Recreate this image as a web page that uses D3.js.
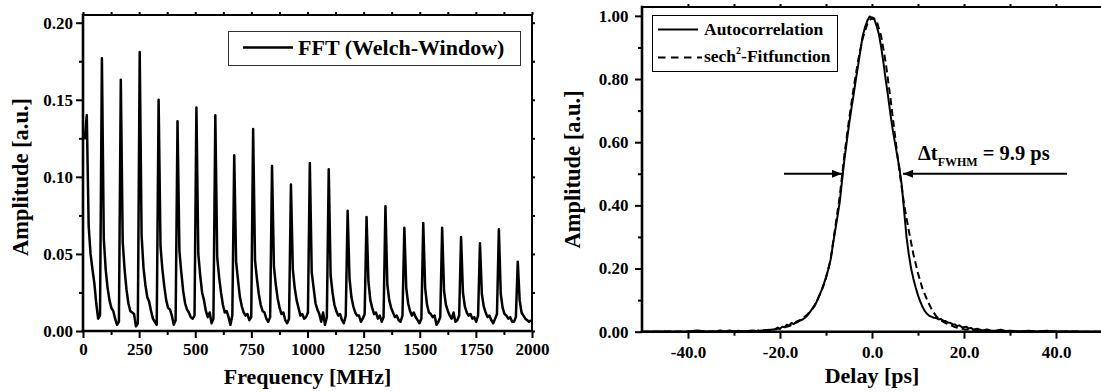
<!DOCTYPE html>
<html>
<head>
<meta charset="utf-8">
<script src="https://cdn.jsdelivr.net/npm/d3@7"></script>
<style>
  body { margin: 0; background: #fff; }
  svg, svg text { font-family: "Liberation Serif", "Times New Roman", Times, serif !important; font-weight: bold; }
</style>
</head>
<body>
<svg id="chart" width="1101" height="392"></svg>
<script>
// ---- left panel: FFT spectrum, sampled every fftStep MHz ----
const fftStep = 8.42;
// one row per comb period, each row starts at a peak (row 0 is the DC part)
const fftAmp = [
  0.126, 0.125, 0.140, 0.068, 0.050, 0.040, 0.031, 0.018, 0.008, 0.010,
  0.177, 0.060, 0.040, 0.028, 0.020, 0.015, 0.013, 0.008, 0.004, 0.006,
  0.163, 0.058, 0.040, 0.027, 0.018, 0.013, 0.012, 0.011, 0.003, 0.005,
  0.181, 0.062, 0.041, 0.030, 0.022, 0.019, 0.013, 0.008, 0.006, 0.004,
  0.150, 0.055, 0.040, 0.029, 0.020, 0.015, 0.014, 0.010, 0.004, 0.007,
  0.136, 0.052, 0.038, 0.026, 0.018, 0.014, 0.012, 0.009, 0.008, 0.010,
  0.145, 0.050, 0.036, 0.025, 0.020, 0.013, 0.009, 0.012, 0.005, 0.008,
  0.140, 0.048, 0.035, 0.025, 0.017, 0.012, 0.013, 0.009, 0.004, 0.010,
  0.114, 0.045, 0.033, 0.022, 0.016, 0.012, 0.010, 0.011, 0.007, 0.009,
  0.131, 0.046, 0.034, 0.024, 0.017, 0.013, 0.012, 0.008, 0.006, 0.009,
  0.107, 0.042, 0.030, 0.021, 0.015, 0.011, 0.012, 0.007, 0.005, 0.008,
  0.095, 0.040, 0.028, 0.020, 0.015, 0.010, 0.011, 0.008, 0.009, 0.012,
  0.109, 0.038, 0.028, 0.018, 0.014, 0.011, 0.006, 0.012, 0.004, 0.009,
  0.105, 0.036, 0.025, 0.017, 0.013, 0.010, 0.011, 0.007, 0.005, 0.010,
  0.078, 0.034, 0.022, 0.016, 0.012, 0.010, 0.010, 0.006, 0.008, 0.011,
  0.074, 0.032, 0.020, 0.015, 0.011, 0.012, 0.008, 0.010, 0.006, 0.009,
  0.081, 0.030, 0.020, 0.015, 0.012, 0.009, 0.010, 0.007, 0.006, 0.010,
  0.067, 0.028, 0.018, 0.013, 0.010, 0.012, 0.009, 0.007, 0.005, 0.008,
  0.070, 0.028, 0.017, 0.012, 0.011, 0.009, 0.010, 0.004, 0.006, 0.009,
  0.067, 0.026, 0.017, 0.013, 0.010, 0.008, 0.012, 0.006, 0.007, 0.010,
  0.061, 0.025, 0.016, 0.012, 0.010, 0.011, 0.008, 0.009, 0.006, 0.010,
  0.057, 0.024, 0.016, 0.012, 0.009, 0.010, 0.007, 0.005, 0.008, 0.011,
  0.066, 0.024, 0.015, 0.011, 0.010, 0.008, 0.009, 0.006, 0.006, 0.009,
  0.045, 0.020, 0.012, 0.010, 0.008, 0.007, 0.006, 0.007
];
const fftXTicks = [0, 250, 500, 750, 1000, 1250, 1500, 1750, 2000];
const fftXMinor = [125, 375, 625, 875, 1125, 1375, 1625, 1875];
const fftYTicks = [0, 0.05, 0.10, 0.15, 0.20];
const fftYMinor = [0.025, 0.075, 0.125, 0.175];

// ---- right panel: autocorrelation [delay ps, amplitude] ----
const autocorr = [
  [-50, 0], [-46, 0.001], [-42, 0], [-40, 0.001], [-38, 0.004], [-36, 0.001], [-34, 0.001],
  [-33, 0.004], [-32, 0.001], [-31, 0.004], [-30, 0.001], [-29, 0.003], [-28, 0.001],
  [-27, 0.002], [-26, 0.004], [-25, 0.002], [-24, 0.004], [-23, 0.002], [-22, 0.006],
  [-21, 0.008], [-20.5, 0.013], [-20, 0.009], [-19.5, 0.016], [-19, 0.014], [-18.5, 0.022],
  [-18, 0.019], [-17.5, 0.028], [-17, 0.024], [-16.5, 0.031], [-16, 0.035], [-15.5, 0.036],
  [-15, 0.040], [-14.5, 0.045], [-14, 0.052], [-13.5, 0.062], [-13, 0.072], [-12.5, 0.080],
  [-12, 0.096], [-11.5, 0.113], [-11, 0.130], [-10.5, 0.150], [-10, 0.172], [-9.5, 0.198],
  [-9, 0.228], [-8.5, 0.275], [-8, 0.320], [-7.5, 0.365], [-7, 0.412], [-6.5, 0.480],
  [-6, 0.545], [-5.5, 0.600], [-5, 0.655], [-4.5, 0.705], [-4, 0.750], [-3.5, 0.800],
  [-3, 0.845], [-2.5, 0.893], [-2, 0.938], [-1.5, 0.965], [-1, 0.985], [-0.5, 0.998],
  [0, 0.990], [0.3, 0.994], [0.6, 0.986], [1, 0.968], [1.5, 0.942], [2, 0.900],
  [2.5, 0.850], [3, 0.795], [3.5, 0.745], [4, 0.690], [4.5, 0.640], [5, 0.598],
  [5.5, 0.556], [6, 0.515], [6.5, 0.460], [7, 0.380], [7.5, 0.300], [8, 0.245],
  [8.5, 0.200], [9, 0.168], [9.5, 0.140], [10, 0.115], [10.5, 0.095], [11, 0.078],
  [11.5, 0.065], [12, 0.056], [12.5, 0.050], [13, 0.047], [13.5, 0.044], [14, 0.043],
  [14.5, 0.039], [15, 0.040], [15.5, 0.035], [16, 0.034], [16.5, 0.029], [17, 0.028],
  [17.5, 0.024], [18, 0.023], [18.5, 0.018], [19, 0.020], [19.5, 0.015], [20, 0.014],
  [20.5, 0.016], [21, 0.010], [21.5, 0.012], [22, 0.007], [23, 0.009], [24, 0.004],
  [25, 0.007], [26, 0.003], [27, 0.004], [28, 0.006], [29, 0.002], [30, 0.003],
  [32, 0.001], [34, 0.003], [36, 0.001], [38, 0.003], [40, 0.001], [43, 0.001], [46, 0], [50, 0]
];
// sech^2 fit curve [delay ps, amplitude]
const sechFit = [
  [-50, 0], [-30, 0.001], [-25, 0.003], [-22, 0.006], [-20, 0.010], [-18, 0.018],
  [-16, 0.032], [-14, 0.055], [-13, 0.072], [-12, 0.096], [-11, 0.128], [-10, 0.170],
  [-9, 0.228], [-8, 0.330], [-7, 0.430], [-6, 0.560], [-5, 0.670], [-4, 0.770],
  [-3, 0.860], [-2, 0.930], [-1, 0.975], [0, 0.995], [1, 0.985], [2, 0.935],
  [3, 0.850], [4, 0.740], [5, 0.620], [6, 0.505], [7, 0.400], [8, 0.320],
  [9, 0.245], [10, 0.185], [11, 0.135], [12, 0.100], [13, 0.070], [14, 0.048],
  [15, 0.036], [16, 0.027], [18, 0.015], [20, 0.008], [22, 0.004], [25, 0.002],
  [30, 0.001], [50, 0]
];
const acXTicks = [-40, -20, 0, 20, 40];
const acXMinor = [-30, -10, 10, 30];
const acYTicks = [0, 0.2, 0.4, 0.6, 0.8, 1.0];
const acYMinor = [0.1, 0.3, 0.5, 0.7, 0.9];
const fwhmLabel = '9.9 ps';

const FONT = '"Liberation Serif", "Times New Roman", Times, serif';
const svg = d3.select('#chart').attr('font-family', FONT).attr('font-weight', 'bold');

function axes(g, x, y, o) {
  const yb = y.range()[0], yt = y.range()[1];
  const xl = x.range()[0], xr = x.range()[1];

  g.append('g').attr('transform', `translate(0,${yb})`)
    .call(d3.axisBottom(x).tickValues(o.xMinor).tickSize(4).tickFormat(''));
  g.append('g').attr('transform', `translate(${xl},0)`)
    .call(d3.axisLeft(y).tickValues(o.yMinor).tickSize(4).tickFormat(''));
  g.append('g').attr('transform', `translate(0,${yb})`)
    .call(d3.axisBottom(x).tickValues(o.xTicks).tickSize(7).tickPadding(o.xPad).tickFormat(o.xFmt));
  g.append('g').attr('transform', `translate(${xl},0)`)
    .call(d3.axisLeft(y).tickValues(o.yTicks).tickSize(7).tickPadding(o.yPad).tickFormat(o.yFmt));
  // mirrored short ticks on top and right
  g.append('g').attr('transform', `translate(0,${yt})`)
    .call(d3.axisTop(x).tickValues(o.xTicks.concat(o.xMinor)).tickSize(3).tickFormat(''));
  g.append('g').attr('transform', `translate(${xr},0)`)
    .call(d3.axisRight(y).tickValues(o.yTicks.concat(o.yMinor)).tickSize(3).tickFormat(''));

  g.selectAll('.domain').remove();
  g.selectAll('.tick line').attr('stroke', '#000').attr('stroke-width', 2);
  g.selectAll('g').attr('font-family', FONT).attr('font-size', 17);
  g.selectAll('.tick text').attr('fill', '#000');

  // frame
  const fr = g.append('g').attr('stroke', '#000').attr('stroke-linecap', 'square');
  fr.append('line').attr('x1', xl).attr('x2', xr).attr('y1', yt).attr('y2', yt).attr('stroke-width', 2);
  fr.append('line').attr('x1', xr).attr('x2', xr).attr('y1', yt).attr('y2', yb).attr('stroke-width', 2);
  fr.append('line').attr('x1', xl).attr('x2', xr).attr('y1', yb).attr('y2', yb).attr('stroke-width', 2.6);
  fr.append('line').attr('x1', xl).attr('x2', xl).attr('y1', yt).attr('y2', yb).attr('stroke-width', 2.6);

  // titles
  g.append('text').attr('x', (xl + xr) / 2).attr('y', o.xTitleY)
    .attr('text-anchor', 'middle').attr('font-size', 22).text(o.xTitle);
  g.append('text').attr('transform', `translate(${o.yTitleX},${(yt + yb) / 2 + o.yTitleDy}) rotate(-90)`)
    .attr('text-anchor', 'middle').attr('font-size', 22.5).text(o.yTitle);
}

function clip(id, x, y) {
  const [x0, x1] = x.range(), [y1, y0] = y.range();
  svg.append('clipPath').attr('id', id).append('rect')
    .attr('x', x0).attr('y', y0).attr('width', x1 - x0).attr('height', y1 - y0);
  return `url(#${id})`;
}

// ---------- left panel ----------
const x1 = d3.scaleLinear().domain([0, 2000]).range([83, 532]);
const y1 = d3.scaleLinear().domain([0, 0.205]).range([331, 15]);
const gL = svg.append('g');

gL.append('path')
  .datum(fftAmp)
  .attr('clip-path', clip('clipL', x1, y1))
  .attr('fill', 'none').attr('stroke', '#000').attr('stroke-width', 2.5)
  .attr('stroke-linejoin', 'round')
  .attr('d', d3.line().x((d, i) => x1(i * fftStep)).y(d => y1(d)));

axes(gL, x1, y1, {
  xTicks: fftXTicks, xMinor: fftXMinor, yTicks: fftYTicks, yMinor: fftYMinor,
  xFmt: d3.format('d'), yFmt: d3.format('.2f'), xPad: 5, yPad: 3,
  xTitle: 'Frequency [MHz]', yTitle: 'Amplitude [a.u.]', xTitleY: 384, yTitleX: 28, yTitleDy: 4
});

// legend
const legL = gL.append('g');
legL.append('rect').attr('x', 228.5).attr('y', 31.5).attr('width', 292).attr('height', 34)
  .attr('fill', '#fff').attr('stroke', '#333').attr('stroke-width', 1);
legL.append('line').attr('x1', 243).attr('x2', 293).attr('y1', 47.5).attr('y2', 47.5)
  .attr('stroke', '#000').attr('stroke-width', 2.5);
legL.append('text').attr('x', 298).attr('y', 55).attr('font-size', 22).text('FFT (Welch-Window)');

// ---------- right panel ----------
const x2 = d3.scaleLinear().domain([-50, 50]).range([642, 1102]);
const y2 = d3.scaleLinear().domain([0, 1.028]).range([331.7, 7]);
const gR = svg.append('g');
const cR = clip('clipR', x2, y2);
const line2 = d3.line().x(d => x2(d[0])).y(d => y2(d[1]));

gR.append('path').datum(sechFit).attr('clip-path', cR)
  .attr('fill', 'none').attr('stroke', '#000').attr('stroke-width', 2)
  .attr('stroke-dasharray', '7,4').attr('d', line2);
gR.append('path').datum(autocorr).attr('clip-path', cR)
  .attr('fill', 'none').attr('stroke', '#000').attr('stroke-width', 2)
  .attr('stroke-linejoin', 'round').attr('d', line2);

axes(gR, x2, y2, {
  xTicks: acXTicks, xMinor: acXMinor, yTicks: acYTicks, yMinor: acYMinor,
  xFmt: d => d3.format('.1f')(d).replace('\u2212', '-'), yFmt: d3.format('.2f'),
  xPad: 7.5, yPad: 6.5,
  xTitle: 'Delay [ps]', yTitle: 'Amplitude [a.u.]', xTitleY: 383, yTitleX: 580, yTitleDy: 0
});

// legend
const legR = gR.append('g');
legR.append('rect').attr('x', 652.5).attr('y', 15.5).attr('width', 185).attr('height', 56)
  .attr('fill', '#fff').attr('stroke', '#000').attr('stroke-width', 1);
legR.append('line').attr('x1', 658).attr('x2', 698).attr('y1', 29.5).attr('y2', 29.5)
  .attr('stroke', '#000').attr('stroke-width', 2);
legR.append('line').attr('x1', 658).attr('x2', 702).attr('y1', 57.5).attr('y2', 57.5)
  .attr('stroke', '#000').attr('stroke-width', 2).attr('stroke-dasharray', '7.5,5.5');
legR.append('text').attr('x', 704).attr('y', 35).attr('font-size', 17.5).text('Autocorrelation');
const t2 = legR.append('text').attr('x', 704).attr('y', 62).attr('font-size', 17.5);
t2.append('tspan').text('sech');
t2.append('tspan').attr('font-size', 10).attr('dy', -8).text('2');
t2.append('tspan').attr('dy', 8).text('-Fitfunction');

// FWHM arrows
const yHalf = y2(0.5);
svg.append('defs').append('marker')
  .attr('id', 'head').attr('viewBox', '0 0 10 8').attr('refX', 10).attr('refY', 4)
  .attr('markerWidth', 10).attr('markerHeight', 8).attr('markerUnits', 'userSpaceOnUse')
  .attr('orient', 'auto')
  .append('path').attr('d', 'M0,0 L10,4 L0,8 Z').attr('fill', '#000');
gR.append('line').attr('x1', 784).attr('x2', 842).attr('y1', yHalf).attr('y2', yHalf)
  .attr('stroke', '#000').attr('stroke-width', 2).attr('marker-end', 'url(#head)');
gR.append('line').attr('x1', 1067).attr('x2', 903).attr('y1', yHalf).attr('y2', yHalf)
  .attr('stroke', '#000').attr('stroke-width', 2).attr('marker-end', 'url(#head)');

const ann = gR.append('text').attr('x', 918).attr('y', 160).attr('font-size', 20.5);
ann.append('tspan').text('\u0394t');
ann.append('tspan').attr('font-size', 12).attr('dy', 6).text('FWHM');
ann.append('tspan').attr('dy', -6).text(' = ' + fwhmLabel);
</script>
</body>
</html>
